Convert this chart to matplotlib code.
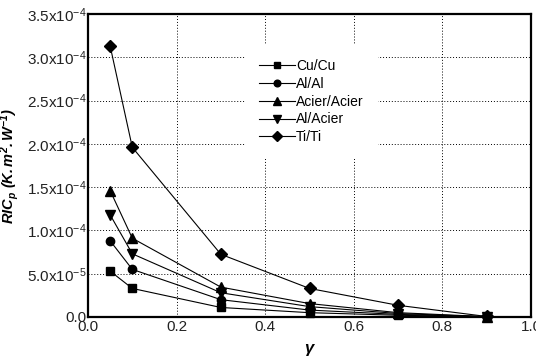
import matplotlib
matplotlib.use("Agg")
import matplotlib.pyplot as plt

plt.rcParams['font.family'] = ['Liberation Sans', 'DejaVu Sans']
plt.rcParams['mathtext.fontset'] = 'custom'
plt.rcParams['mathtext.rm'] = 'Liberation Sans'
plt.rcParams['mathtext.it'] = 'Liberation Sans:italic'
plt.rcParams['mathtext.bf'] = 'Liberation Sans:bold:italic'

gamma = [0.05, 0.1, 0.3, 0.5, 0.7, 0.9]
cu_cu = [0.53e-4, 0.33e-4, 0.11e-4, 0.05e-4, 0.02e-4, 0.003e-4]
al_al = [0.88e-4, 0.55e-4, 0.20e-4, 0.08e-4, 0.03e-4, 0.003e-4]
acier_acier = [1.46e-4, 0.91e-4, 0.345e-4, 0.155e-4, 0.05e-4, 0.004e-4]
al_acier = [1.18e-4, 0.73e-4, 0.28e-4, 0.12e-4, 0.04e-4, 0.003e-4]
ti_ti = [3.13e-4, 1.96e-4, 0.724e-4, 0.33e-4, 0.135e-4, 0.006e-4]

series_names = ['Cu/Cu', 'Al/Al', 'Acier/Acier', 'Al/Acier', 'Ti/Ti']
series_values = [cu_cu, al_al, acier_acier, al_acier, ti_ti]
markers = ['s', 'o', '^', 'v', 'D']
msizes = [6, 6, 7, 7, 6]

y_ticks = [0, 0.5e-4, 1.0e-4, 1.5e-4, 2.0e-4, 2.5e-4, 3.0e-4, 3.5e-4]
y_ticklabels = ['0.0', '5.0x10$^{-5}$', '1.0x10$^{-4}$', '1.5x10$^{-4}$',
                '2.0x10$^{-4}$', '2.5x10$^{-4}$', '3.0x10$^{-4}$', '3.5x10$^{-4}$']
x_ticks = [0.0, 0.2, 0.4, 0.6, 0.8, 1.0]
x_ticklabels = ['0.0', '0.2', '0.4', '0.6', '0.8', '1.0']

fig = plt.figure(figsize=(5.36, 3.58), dpi=100)
ax = fig.add_axes([88/536, 1-317/358, 443/536, 303/358])

for name, vals, m, ms in zip(series_names, series_values, markers, msizes):
    ax.plot(gamma, vals, color='black', lw=0.8, marker=m, ms=ms,
            markerfacecolor='black', markeredgecolor='black', label=name,
            clip_on=False, zorder=3)

ax.set_xlim(0, 1.0)
ax.set_ylim(0, 3.5e-4)
ax.set_xticks(x_ticks)
ax.set_xticklabels(x_ticklabels)
ax.set_yticks(y_ticks)
ax.set_yticklabels(y_ticklabels)
ax.tick_params(axis='both', length=0, labelsize=11, colors='#222222')
ax.tick_params(axis='y', pad=1)
ax.tick_params(axis='x', pad=2)

ax.grid(True, color='black', linestyle=(0, (1, 2)), linewidth=0.7)
ax.set_axisbelow(True)
for s in ax.spines.values():
    s.set_linewidth(1.6)
    s.set_color('black')

ax.set_xlabel(r'$\mathbf{\gamma}$', fontsize=12, labelpad=6)
ax.set_ylabel(r'$\mathbf{RIC_{p}\ (K.m^{2}.W^{-1})}$', fontsize=10.5, labelpad=4)

leg = ax.legend(loc='upper left', bbox_to_anchor=(0.354, 0.898),
                borderaxespad=0, frameon=True, fancybox=False,
                fontsize=10, handlelength=2.6, handletextpad=0.1,
                labelspacing=0.28, borderpad=1.0, markerscale=0.8)
leg.get_frame().set_facecolor('white')
leg.get_frame().set_edgecolor('none')
leg.get_frame().set_alpha(1)

fig.savefig('out.png', dpi=100)
